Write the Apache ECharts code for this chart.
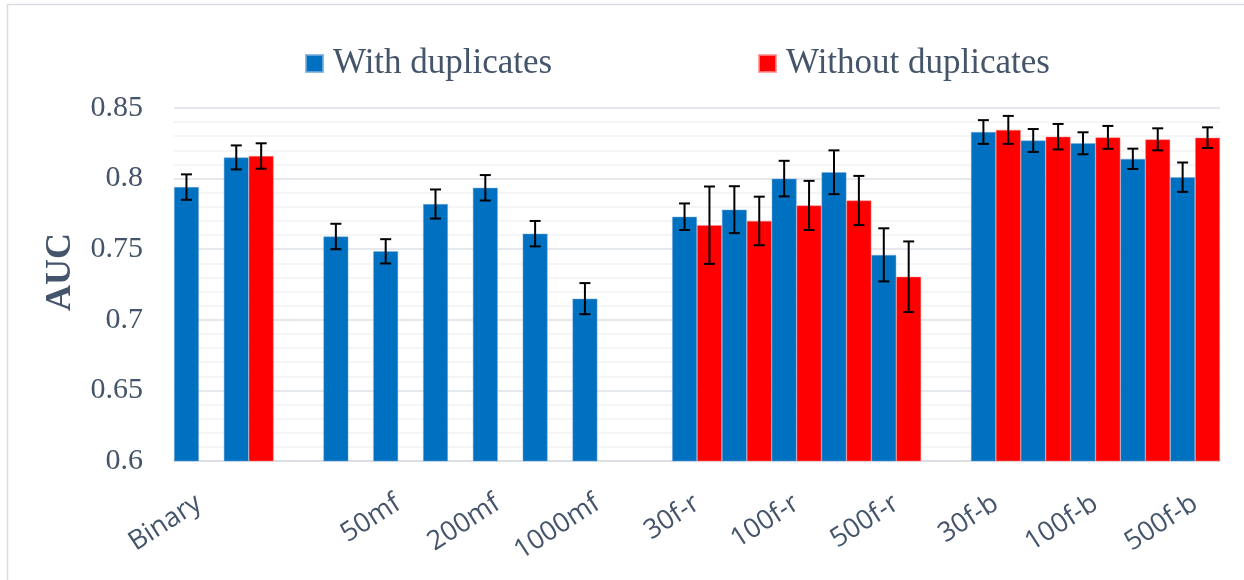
<!DOCTYPE html>
<html>
<head>
<meta charset="utf-8">
<script src="https://cdn.jsdelivr.net/npm/echarts@6/dist/echarts.min.js"></script>
<style>
  html, body { margin: 0; padding: 0; background: #ffffff; }
  #chart { width: 1244px; height: 580px; }
</style>
</head>
<body>
<div id="chart"></div>
<script>
// Category slots along the x axis (blank slots separate the groups)
const categories = [
  'Binary', 'Binary-b', 'gap-a',
  '30mf', '50mf', '100mf', '200mf', '500mf', '1000mf', 'gap-b',
  '30f-r', '50f-r', '100f-r', '200f-r', '500f-r', 'gap-c',
  '30f-b', '50f-b', '100f-b', '200f-b', '500f-b'
];
// Tick labels shown under every second slot
const tickLabels = [
  'Binary', '', '',
  '', '50mf', '', '200mf', '', '1000mf', '',
  '30f-r', '', '100f-r', '', '500f-r', '',
  '30f-b', '', '100f-b', '', '500f-b'
];

// Mean AUC and error half-width, with duplicates
const withDup = [
  0.794, 0.815, null,
  0.759, 0.7485, 0.782, 0.7935, 0.761, 0.715, null,
  0.773, 0.778, 0.800, 0.8045, 0.746, null,
  0.833, 0.827, 0.825, 0.814, 0.801
];
const withDupErr = [
  0.009, 0.0085, null,
  0.009, 0.0086, 0.0103, 0.009, 0.009, 0.011, null,
  0.0094, 0.0166, 0.0126, 0.0155, 0.0188, null,
  0.0084, 0.0081, 0.0078, 0.0072, 0.0104
];

// Mean AUC and error half-width, without duplicates
const withoutDup = [
  null, 0.816, null,
  null, null, null, null, null, null, null,
  0.767, 0.770, 0.781, 0.7845, 0.7305, null,
  0.8345, 0.8297, 0.8292, 0.8278, 0.829
];
const withoutDupErr = [
  null, 0.009, null,
  null, null, null, null, null, null, null,
  0.0274, 0.0172, 0.0174, 0.0174, 0.025, null,
  0.0099, 0.009, 0.0081, 0.0078, 0.0073
];

const yTicks = { min: 0.6, max: 0.85, step: 0.05 };

const BLUE = '#0070C0';
const RED = '#FF0000';
const TEXT = '#44546A';
const SERIF = '"Liberation Serif", "DejaVu Serif", serif';

// Error bar items: [categoryIndex, mean, halfWidth]
function errorData(means, errs) {
  const out = [];
  means.forEach((m, i) => {
    if (m != null && errs[i] != null) out.push([i, m, errs[i]]);
  });
  return out;
}

// Draws one I-shaped error bar, shifted onto its bar within the category band
function errorRenderer(side) {
  return function (params, api) {
    const idx = api.value(0);
    const mean = api.value(1);
    const err = api.value(2);
    const band = api.size([1, 0])[0];
    const center = api.coord([idx, mean]);
    const x = center[0] + side * band / 4;
    const top = api.coord([idx, mean + err])[1];
    const bottom = api.coord([idx, mean - err])[1];
    const cap = 5.5;
    const style = { stroke: '#000000', lineWidth: 2 };
    return {
      type: 'group',
      children: [
        { type: 'line', shape: { x1: x, y1: top, x2: x, y2: bottom }, style },
        { type: 'line', shape: { x1: x - cap, y1: top, x2: x + cap, y2: top }, style },
        { type: 'line', shape: { x1: x - cap, y1: bottom, x2: x + cap, y2: bottom }, style }
      ]
    };
  };
}

const chart = echarts.init(document.getElementById('chart'), null, { renderer: 'canvas' });

const legendText = { fontFamily: SERIF, fontSize: 35, color: TEXT, padding: [0, 0, 0, 5] };

chart.setOption({
  animation: false,
  backgroundColor: '#ffffff',
  grid: { left: 174, right: 24, top: 108, bottom: 119, containLabel: false },
  legend: [
    {
      left: 305, top: 46, padding: 0,
      itemWidth: 17, itemHeight: 17,
      icon: 'rect',
      data: ['With duplicates'],
      textStyle: legendText
    },
    {
      left: 758, top: 46, padding: 0,
      itemWidth: 17, itemHeight: 17,
      icon: 'rect',
      data: ['Without duplicates'],
      textStyle: legendText
    }
  ],
  xAxis: {
    type: 'category',
    data: categories,
    axisTick: { show: false },
    axisLine: { lineStyle: { color: '#D9DDE3', width: 1.5 } },
    axisLabel: {
      interval: 0,
      rotate: 33,
      margin: 40,
      fontFamily: '"Open Sans", "Noto Sans", sans-serif',
      fontSize: 27,
      color: TEXT,
      formatter: (v, i) => tickLabels[i]
    }
  },
  yAxis: {
    type: 'value',
    min: yTicks.min,
    max: yTicks.max,
    interval: yTicks.step,
    axisLine: { show: false },
    axisTick: { show: false },
    axisLabel: {
      margin: 31,
      fontFamily: SERIF,
      fontSize: 30,
      color: TEXT,
      formatter: v => String(Math.round(v * 100) / 100)
    },
    splitLine: { lineStyle: { color: '#DDE1E7', width: 1.5 } },
    minorTick: { show: false, splitNumber: 5 },
    minorSplitLine: { show: true, lineStyle: { color: '#F1F2F4', width: 1.5 } }
  },
  series: [
    {
      name: 'With duplicates',
      type: 'bar',
      data: withDup,
      barGap: '0%',
      barCategoryGap: '0%',
      itemStyle: { color: BLUE, borderColor: 'rgba(120,170,220,0.8)', borderWidth: 0.6 }
    },
    {
      name: 'Without duplicates',
      type: 'bar',
      data: withoutDup,
      barGap: '0%',
      barCategoryGap: '0%',
      itemStyle: { color: RED, borderColor: 'rgba(255,140,140,0.8)', borderWidth: 0.6 }
    },
    {
      type: 'custom',
      renderItem: errorRenderer(-1),
      data: errorData(withDup, withDupErr),
      encode: { x: 0, y: 1 },
      z: 5,
      silent: true
    },
    {
      type: 'custom',
      renderItem: errorRenderer(1),
      data: errorData(withoutDup, withoutDupErr),
      encode: { x: 0, y: 1 },
      z: 5,
      silent: true
    }
  ],
  graphic: [
    {
      type: 'rect',
      shape: { x: 7.5, y: 4.5, width: 1300, height: 700 },
      style: { fill: 'none', stroke: '#D9DDE3', lineWidth: 1.5 },
      silent: true
    },
    {
      type: 'text',
      x: 61, y: 272,
      rotation: Math.PI / 2,
      style: {
        text: 'AUC',
        fontFamily: SERIF,
        fontWeight: 'bold',
        fontSize: 36,
        fill: TEXT,
        align: 'center',
        verticalAlign: 'middle'
      },
      silent: true
    }
  ]
});
</script>
</body>
</html>
